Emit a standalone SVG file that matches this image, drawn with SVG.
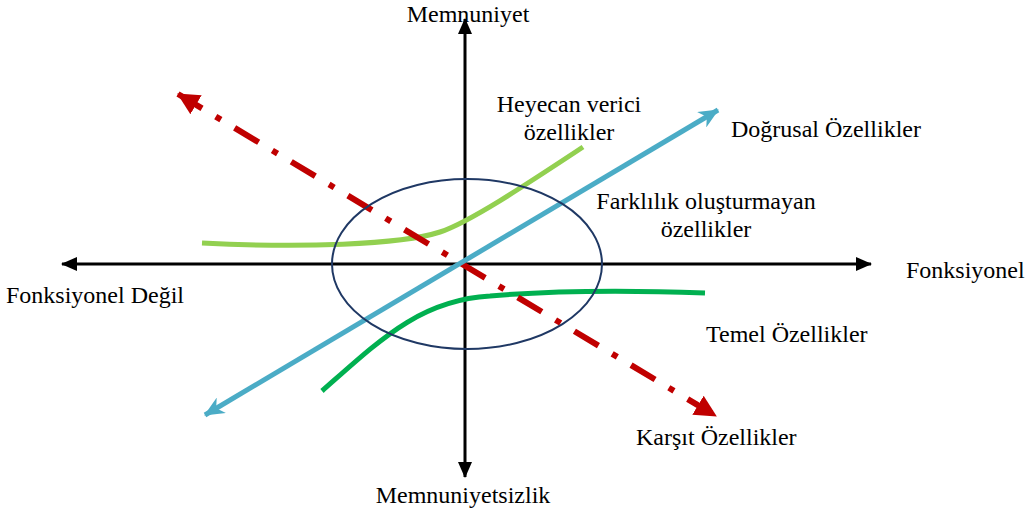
<svg xmlns="http://www.w3.org/2000/svg" width="1027" height="513" viewBox="0 0 1027 513">
<style>
text{font-family:"Liberation Serif","Times New Roman",serif;font-size:24px;fill:#000}
.ax{stroke:#000;stroke-width:3;fill:none}
.blue{stroke:#4BACC6;stroke-width:5;fill:none}
.red{stroke:#C00000;stroke-width:6;fill:none;stroke-dasharray:28 16 6 16}
</style>
<defs>
<marker id="ak" markerUnits="userSpaceOnUse" viewBox="0 0 16 14" refX="15" refY="7" markerWidth="16" markerHeight="14" orient="auto-start-reverse"><path d="M0,0 L16,7 L0,14 Z" fill="#000"/></marker>
<marker id="ab" markerUnits="userSpaceOnUse" viewBox="0 0 20 18" refX="19" refY="9" markerWidth="20" markerHeight="18" orient="auto-start-reverse"><path d="M0,0 L20,9 L0,18 L6,9 Z" fill="#4BACC6"/></marker>
<marker id="ar" markerUnits="userSpaceOnUse" viewBox="0 0 22 22" refX="21" refY="11" markerWidth="22" markerHeight="22" orient="auto-start-reverse"><path d="M0,0 L22,11 L0,22 Z" fill="#C00000"/></marker>
</defs>
<g id="connectors">
<line class="ax" x1="465" y1="477" x2="465" y2="19" marker-start="url(#ak)" marker-end="url(#ak)"/>
<line class="ax" x1="62" y1="264" x2="871" y2="264" marker-start="url(#ak)" marker-end="url(#ak)"/>
<path id="heyecan-curve" d="M202,243 C300,248 400,245 440,232 C470,222 530,182 583,147" stroke="#92D050" stroke-width="5" fill="none"/>
<path id="temel-curve" d="M322,391 C380,340 420,300 490,296 C560,290 650,291 705,293" stroke="#00B050" stroke-width="5" fill="none"/>
<line class="red" x1="178" y1="94" x2="716" y2="416" marker-start="url(#ar)" marker-end="url(#ar)"/>
<line class="blue" x1="205" y1="415" x2="718" y2="110" marker-start="url(#ab)" marker-end="url(#ab)"/>
</g>
<g id="ellipse"><ellipse cx="467" cy="264" rx="135" ry="85" fill="none" stroke="#1F3864" stroke-width="2"/></g>
<g id="labels">
<text x="468" y="22" text-anchor="middle">Memnuniyet</text>
<text x="463" y="503" text-anchor="middle">Memnuniyetsizlik</text>
<text x="906" y="278">Fonksiyonel</text>
<text x="6" y="303">Fonksiyonel Değil</text>
<text x="569" y="112" text-anchor="middle">Heyecan verici</text>
<text x="569" y="140" text-anchor="middle">özellikler</text>
<text x="731" y="137">Doğrusal Özellikler</text>
<text x="706" y="209" text-anchor="middle">Farklılık oluşturmayan</text>
<text x="706" y="237" text-anchor="middle">özellikler</text>
<text x="706" y="342">Temel Özellikler</text>
<text x="636" y="445">Karşıt Özellikler</text>
</g>
</svg>
